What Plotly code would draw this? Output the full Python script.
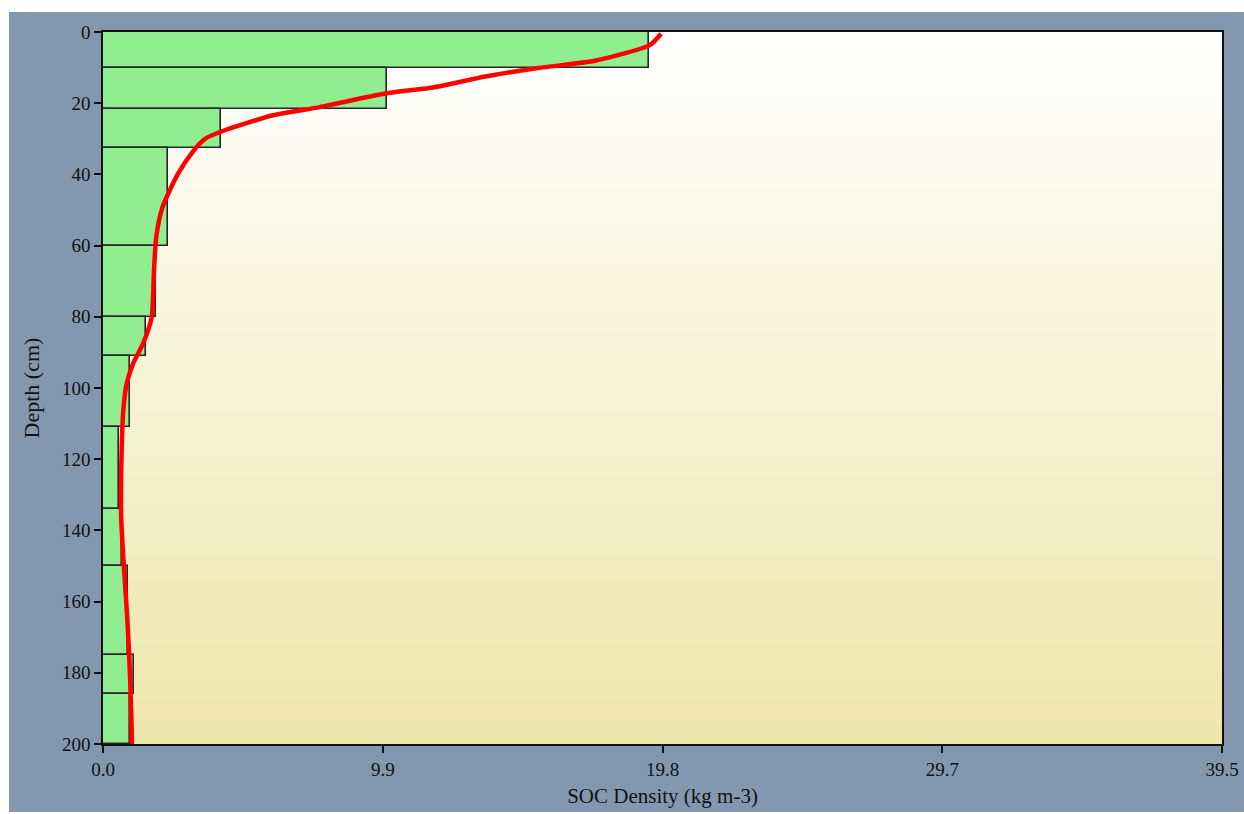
import numpy as np
import plotly.graph_objects as go

# Soil horizons: upper and lower depth (cm) and measured SOC density (kg m-3)
layer_top = [0, 10, 21.6, 32.5, 60, 80, 91, 111, 134, 150, 175, 186]
layer_bottom = [10, 21.6, 32.5, 60, 80, 91, 111, 134, 150, 175, 186, 200]
soc_layer = [19.28, 10.02, 4.16, 2.31, 1.87, 1.52, 0.95, 0.56, 0.66, 0.88, 1.10, 0.95]

# Fitted continuous SOC depth profile
fit_depth = [0.5, 3.7, 8.0, 10.2, 12.5, 15.5, 17.3, 21.1, 23.4, 27.6, 30.0, 33.3, 39.8,
             49.2, 57.6, 67, 80, 87.4, 93, 98.6, 106, 117, 136, 148, 165, 180, 195, 200]
fit_soc = [19.7, 19.3, 17.4, 15.3, 13.5, 11.7, 9.95, 7.65, 6.0, 4.3, 3.6, 3.2, 2.65,
           2.1, 1.88, 1.8, 1.72, 1.42, 1.07, 0.84, 0.72, 0.66, 0.64, 0.72, 0.86, 0.95, 1.01, 1.02]

x_ticks = [0, 9.875, 19.75, 29.625, 39.5]
x_tick_text = ["0.0", "9.9", "19.8", "29.7", "39.5"]
y_ticks = list(range(0, 201, 20))

X_MAX, Y_MAX = 39.5, 200
FONT = "Liberation Serif"
SLATE = "#8497B0"

fig = go.Figure()

# plot-area background: white at the surface fading to pale gold at depth
bg_rows = np.linspace(0, Y_MAX, 101)
fig.add_trace(go.Heatmap(
    x=[0, X_MAX], y=bg_rows, z=[[v, v] for v in bg_rows],
    colorscale=[[0, "#FFFFFF"], [1, "#EEE6AA"]], zsmooth="best",
    showscale=False, hoverinfo="skip",
))

mid = [(a + b) / 2 for a, b in zip(layer_top, layer_bottom)]
thick = [b - a for a, b in zip(layer_top, layer_bottom)]
fig.add_trace(go.Bar(
    orientation="h", y=mid, x=soc_layer, width=thick, base=0,
    marker=dict(color="#90EE90", line=dict(color="#262626", width=1.6)),
    showlegend=False,
))

fig.add_trace(go.Scatter(
    x=fit_soc, y=fit_depth, mode="lines",
    line=dict(color="#FF0000", width=4.5, shape="spline", smoothing=0.6),
    showlegend=False,
))

fig.update_layout(
    width=1244, height=814,
    margin=dict(l=103, r=22, t=32, b=70),
    paper_bgcolor="white",
    plot_bgcolor="rgba(0,0,0,0)",
    bargap=0,
    font=dict(family=FONT, size=19, color="#111111"),
    shapes=[dict(type="rect", xref="paper", yref="paper",
                 x0=-0.084, x1=1.03, y0=-0.0955, y1=1.0281,
                 fillcolor=SLATE, line=dict(width=0), layer="below")],
    xaxis=dict(
        range=[0, X_MAX], tickvals=x_ticks, ticktext=x_tick_text,
        ticks="outside", ticklen=7, tickcolor="#111", tickwidth=1.5,
        showline=True, linecolor="#111", linewidth=1.5, mirror=True,
        showgrid=False, zeroline=False, automargin=False,
        title=dict(text="SOC Density (kg m-3)", font=dict(size=21), standoff=10),
    ),
    yaxis=dict(
        range=[Y_MAX, 0], tickvals=y_ticks,
        ticks="outside", ticklen=7, tickcolor="#111", tickwidth=1.5,
        showline=True, linecolor="#111", linewidth=1.5, mirror=True,
        showgrid=False, zeroline=False, automargin=False,
        title=dict(text="Depth (cm)", font=dict(size=22), standoff=16),
    ),
)

fig.write_html("out.html")
